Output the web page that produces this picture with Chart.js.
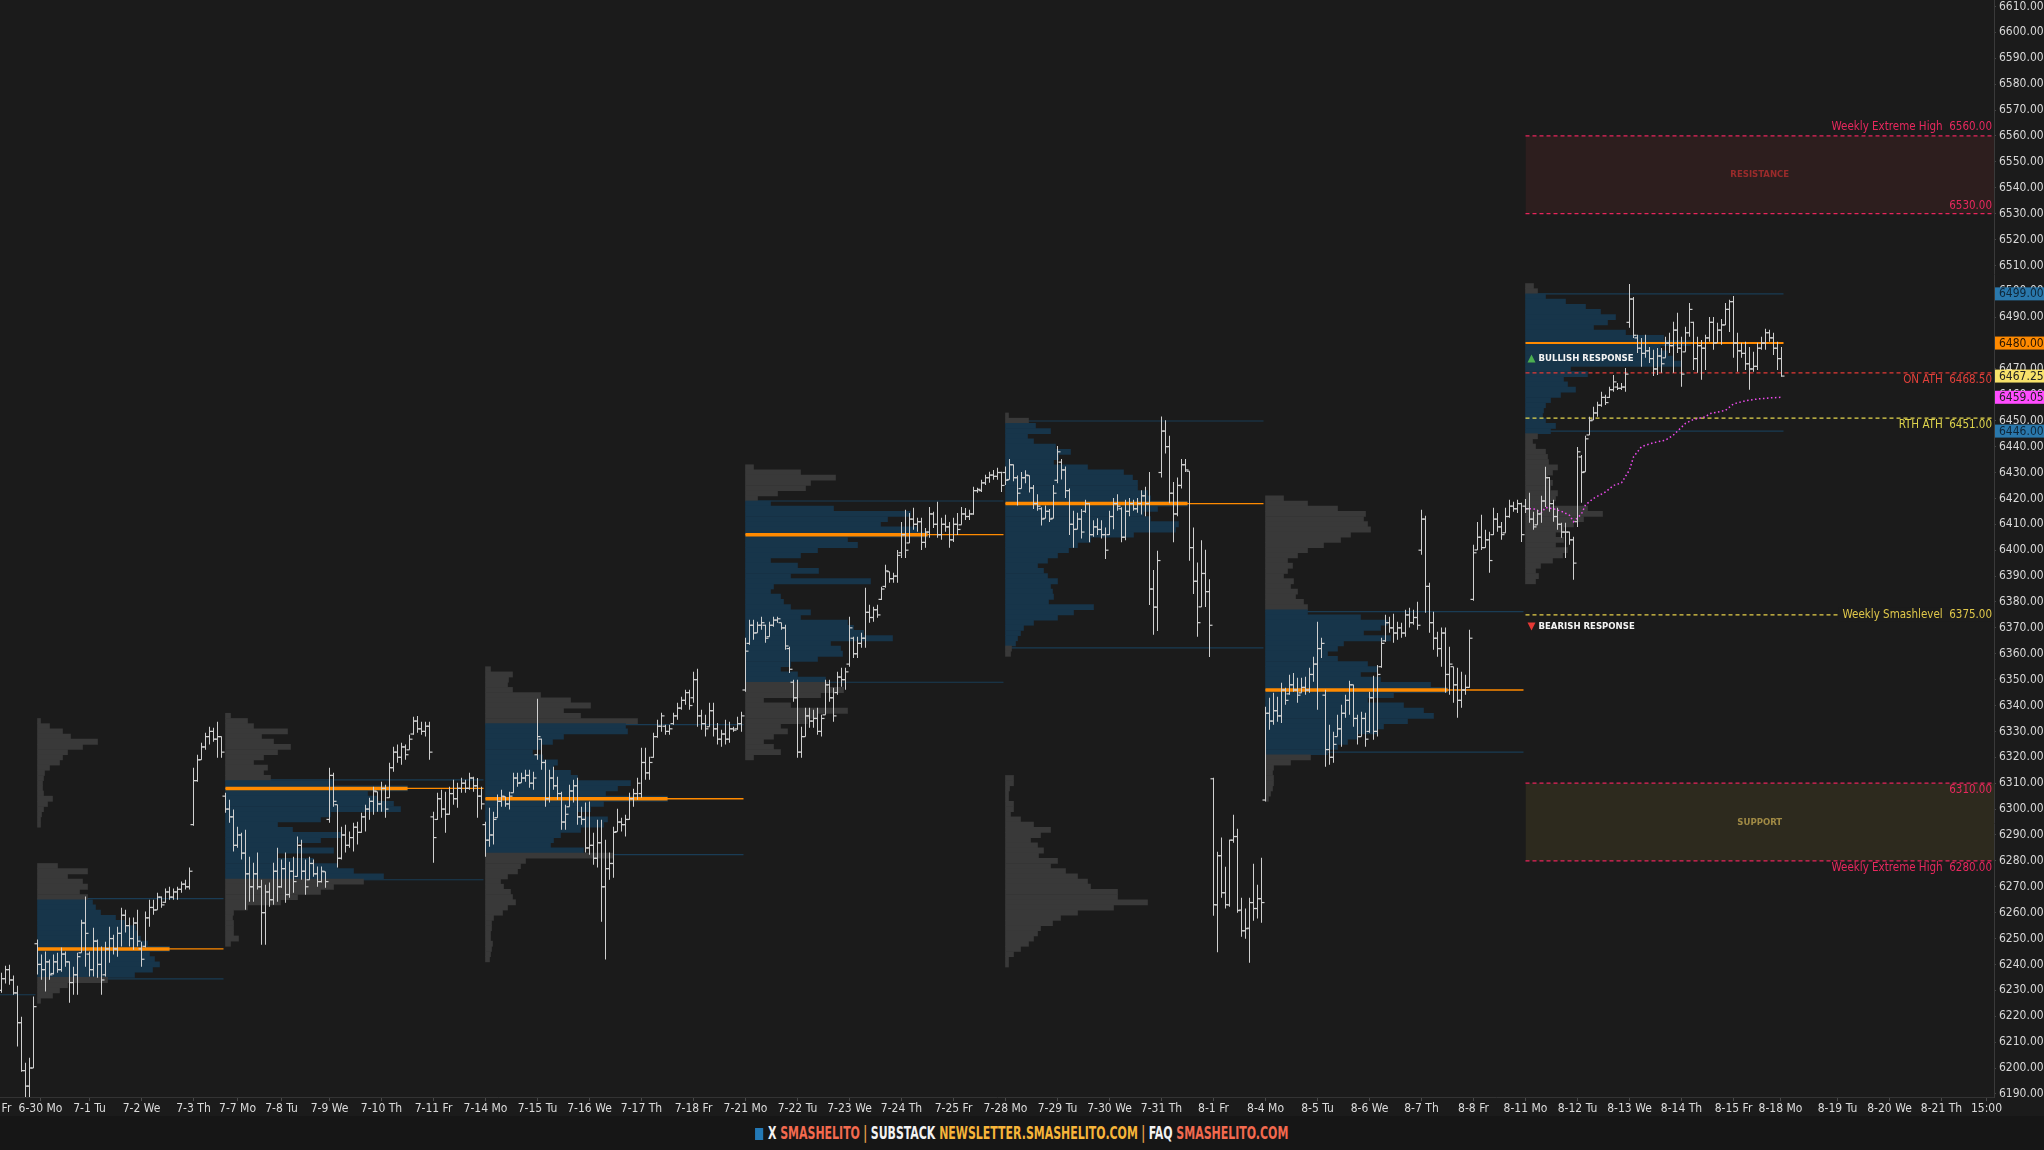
<!DOCTYPE html>
<html>
<head>
<meta charset="utf-8">
<script src="https://cdn.jsdelivr.net/npm/chart.js@4.4.1/dist/chart.umd.min.js"></script>
<style>
html, body { margin: 0; padding: 0; background: #1b1b1b; overflow: hidden; }
#wrap { position: relative; width: 2044px; height: 1150px; }
#chart { display: block; width: 2044px; height: 1116px; }
#footer { position: absolute; left: 0; top: 1116px; width: 2044px; height: 34px; background: #161616; text-align: center; }
#footer .in { display: inline-block; white-space: nowrap; font: bold 18px "Liberation Sans Narrow", "DejaVu Sans Condensed", "Liberation Sans", sans-serif; line-height: 34px; transform-origin: 50% 50%; }
#footer .sq { display: inline-block; width: 12px; height: 12px; background: #2379b6; vertical-align: -1px; margin-right: 7px; }
#footer .w { color: #f2f2f2; }
#footer .r { color: #f36a4f; }
#footer .g { color: #f7b53a; }
#footer .o { color: #e9a24b; margin: 0 5px; }
</style>
</head>
<body>
<div id="wrap">
  <canvas id="chart" width="2044" height="1116"></canvas>
  <div id="footer"><span class="in"><span class="sq"></span><span class="w">X </span><span class="r">SMASHELITO</span><span class="o">|</span><span class="w">SUBSTACK </span><span class="g">NEWSLETTER.SMASHELITO.COM</span><span class="o">|</span><span class="w">FAQ </span><span class="r">SMASHELITO.COM</span></span></div>
</div>
<script>
// 30 min RTH bars, [open, high, low, close]
const barsJun27 = [
    [6230, 6236.8, 6229.1, 6234.5], [6234.5, 6239.5, 6232.6, 6238], [6238, 6239.9, 6232.2, 6234], [6234, 6235.7, 6228.3, 6229],
    [6229, 6231.8, 6208.3, 6217.5], [6217.5, 6219.8, 6198.6, 6199], [6199, 6202, 6186, 6193], [6193, 6204, 6186, 6200],
    [6200, 6227.6, 6200, 6223.7]
];
const barsWk1 = [
    // 6-30
    [6248, 6249.6, 6236.1, 6240], [6240, 6243.8, 6234.1, 6238], [6238, 6245, 6229.5, 6241], [6241, 6241.9, 6234.1, 6236],
    [6236.5, 6243.8, 6236.1, 6241], [6241, 6244.5, 6236.8, 6238], [6238, 6246.5, 6237.2, 6244], [6244, 6245, 6239.1, 6241],
    [6241, 6241.1, 6225.2, 6233], [6233, 6239.1, 6228.3, 6236], [6236, 6244.5, 6228.3, 6243], [6244.5, 6257.3, 6244.5, 6256],
    [6256, 6266.2, 6239.1, 6252],
    // 7-1
    [6244, 6245, 6235.3, 6238], [6238, 6254.2, 6235.3, 6249], [6249, 6249.6, 6234.9, 6240], [6240, 6246.9, 6228.3, 6234],
    [6236, 6248.8, 6235.3, 6246], [6246, 6254.6, 6240.7, 6250], [6250, 6251.5, 6243.8, 6246], [6246, 6254.6, 6243, 6252],
    [6252, 6261.9, 6246.9, 6259], [6259, 6261.1, 6252.3, 6255], [6255, 6258.1, 6246.9, 6250], [6250, 6258.1, 6245.7, 6256],
    [6256, 6261.1, 6246.9, 6249],
    // 7-2
    [6246, 6248.8, 6239.1, 6242], [6247, 6260.4, 6246.5, 6258], [6258, 6265, 6254.6, 6262], [6262, 6265, 6259.2, 6261],
    [6261.1, 6267.7, 6261.1, 6266], [6266, 6266.2, 6261.9, 6263], [6264, 6269.3, 6263.8, 6268], [6268, 6270, 6265, 6266],
    [6266, 6269.3, 6265, 6268], [6268, 6270, 6265, 6269], [6269, 6272, 6267.7, 6271], [6271, 6272.7, 6268.9, 6270],
    [6270, 6277.4, 6268.9, 6276],
    // 7-3 half day
    [6294, 6316, 6293.6, 6311], [6311, 6321, 6310.6, 6319], [6319.1, 6325.6, 6319.1, 6324], [6324, 6329.5, 6322.9, 6328],
    [6328, 6331.8, 6324.9, 6330], [6330, 6331.4, 6326, 6327], [6327, 6333.7, 6319.8, 6328], [6328, 6328, 6319.8, 6322]
];
const barsWk2 = [
    // 7-7
    [6305, 6306.3, 6298.6, 6300], [6300, 6303.6, 6294.7, 6297], [6297, 6299.8, 6283.6, 6286], [6286, 6293.2, 6285.1, 6290],
    [6290, 6290.9, 6280.5, 6283], [6283, 6292, 6261.1, 6275], [6275, 6281.6, 6264.2, 6270], [6270, 6279.3, 6264.2, 6275],
    [6275, 6283.2, 6268.9, 6270], [6270, 6272.7, 6247.6, 6260], [6260, 6270.8, 6247.6, 6268], [6268, 6271.6, 6262.3, 6265],
    [6265, 6279.3, 6263.1, 6276],
    // 7-8
    [6276, 6285.1, 6264.2, 6270], [6270, 6280.5, 6269.6, 6277], [6277, 6283.2, 6263.8, 6267], [6267, 6279.7, 6265.8, 6276],
    [6276, 6281.6, 6267.7, 6272], [6274, 6289.4, 6273.9, 6286], [6286, 6288.2, 6272.7, 6276], [6276, 6280.5, 6266.9, 6270],
    [6272.7, 6281.6, 6272.7, 6279], [6279, 6280.5, 6273.9, 6275], [6275, 6277.8, 6270, 6272], [6272, 6277.8, 6271.6, 6276],
    [6275.8, 6275.8, 6269.6, 6272],
    // 7-9
    [6296, 6316, 6294.7, 6313], [6313, 6314, 6300.9, 6303], [6301.7, 6301.7, 6277.4, 6281], [6281, 6293.2, 6280.5, 6290],
    [6290, 6294, 6283.2, 6286], [6286, 6291.3, 6285.1, 6289], [6289, 6294.7, 6283.6, 6293], [6293, 6295.1, 6286.3, 6291],
    [6291, 6298.6, 6290.9, 6297], [6297, 6301.7, 6291.3, 6300], [6300, 6304.4, 6295.9, 6303], [6303, 6308.6, 6297.8, 6307],
    [6306.7, 6306.7, 6299, 6302],
    // 7-10
    [6302, 6310.6, 6299, 6308], [6308, 6309.4, 6296.7, 6300], [6304.4, 6317.9, 6304.4, 6316], [6316, 6324.1, 6314.4, 6322],
    [6322, 6324.9, 6317.9, 6320], [6320, 6325.6, 6317.1, 6324], [6324, 6324.9, 6319.1, 6321], [6322.9, 6328.7, 6322.9, 6327],
    [6329, 6335.7, 6328.7, 6334], [6334, 6336, 6329.5, 6331], [6331, 6333.7, 6328.7, 6330], [6330, 6333.7, 6328, 6332],
    [6332, 6333.7, 6319.1, 6322],
    // 7-11
    [6297, 6299, 6279.3, 6289], [6296, 6306.3, 6295.9, 6304], [6304, 6307.5, 6296.7, 6300], [6300, 6306.7, 6290.9, 6298],
    [6298, 6308.6, 6297.8, 6306], [6306, 6311.3, 6301.7, 6304], [6304, 6310.2, 6300.5, 6308], [6308, 6312.1, 6306.3, 6310],
    [6310, 6311.3, 6306.3, 6308], [6308, 6314, 6307.5, 6312], [6312, 6312.5, 6306.7, 6309], [6309, 6312, 6296.7, 6305],
    [6305, 6308.6, 6299.8, 6302]
];
const barsWk3 = [
    // 7-14
    [6294, 6295.1, 6281.6, 6288], [6288, 6300.5, 6285.5, 6290], [6290, 6299, 6286.3, 6296], [6296.7, 6305.6, 6296.7, 6303],
    [6303, 6307.5, 6300.9, 6305], [6304.8, 6304.8, 6300.9, 6302], [6302, 6306.7, 6299.8, 6305], [6306.3, 6314, 6306.3, 6312],
    [6312, 6314, 6308.6, 6310], [6310.2, 6314, 6310.2, 6312], [6312, 6315.2, 6310.6, 6313], [6313, 6315.2, 6308.2, 6310],
    [6310, 6314.4, 6307.5, 6312],
    // 7-15
    [6321, 6342.6, 6319.1, 6328], [6327, 6327.2, 6315.2, 6318], [6318, 6319.1, 6300.9, 6304], [6304, 6315.2, 6302.5, 6312],
    [6312, 6316.4, 6307.5, 6309], [6309, 6312.5, 6303.6, 6306], [6306, 6306.7, 6292, 6295], [6295, 6301.7, 6292, 6298],
    [6300.9, 6309.4, 6300.9, 6307], [6307, 6311.3, 6302.5, 6309], [6309, 6312.1, 6294, 6297], [6297, 6300.9, 6294, 6296],
    [6296, 6302.5, 6283.2, 6285],
    // 7-16
    [6285, 6302.9, 6282.4, 6286], [6286, 6290.9, 6278.5, 6281], [6281, 6295.9, 6277.4, 6287], [6287, 6295.9, 6256.5, 6270],
    [6270, 6288.2, 6241.9, 6277], [6277, 6283.2, 6272.7, 6279], [6279, 6293.2, 6273.5, 6291], [6291.3, 6300.1, 6291.3, 6295],
    [6295, 6296.7, 6291.3, 6294], [6294, 6297.8, 6289.4, 6296], [6296, 6306.3, 6295.9, 6304], [6304, 6307.9, 6300.9, 6306],
    [6306, 6312.1, 6303.6, 6310],
    // 7-17
    [6306, 6323.7, 6304.4, 6318], [6318, 6323.7, 6311.3, 6314], [6314, 6320.2, 6311.3, 6318], [6320, 6329.5, 6319.8, 6328],
    [6328, 6334.5, 6327.6, 6332], [6332, 6337.2, 6329.9, 6336], [6332, 6332.6, 6328.7, 6330], [6330, 6332.6, 6328.7, 6331],
    [6333, 6337.2, 6332.6, 6336], [6336, 6341.1, 6334.5, 6339], [6339, 6343.4, 6338.4, 6342], [6342, 6346.1, 6340.3, 6345],
    [6345, 6346.1, 6338.4, 6340],
    // 7-18
    [6343, 6353, 6341.1, 6350], [6350, 6354.2, 6331.8, 6336], [6336, 6338.4, 6330.6, 6333], [6333, 6336.4, 6328, 6331],
    [6331.8, 6341.1, 6331.8, 6338], [6338, 6341.1, 6328, 6331], [6331, 6333.3, 6324.9, 6327], [6327, 6330.6, 6324.1, 6329],
    [6329, 6334.5, 6324.9, 6327], [6327, 6333.7, 6325.6, 6331], [6331, 6331.8, 6329.9, 6330.5], [6331, 6335.7, 6330.6, 6333],
    [6333, 6337.6, 6329.9, 6336]
];
const barsWk4 = [
    // 7-21
    [6346, 6366.2, 6345.3, 6361], [6364, 6373.1, 6363.5, 6371], [6371, 6373.1, 6365.4, 6368], [6368.1, 6372.4, 6368.1, 6371],
    [6371, 6374.3, 6369.3, 6372], [6371, 6371.2, 6364.2, 6366], [6366.6, 6372.4, 6366.6, 6371], [6371, 6374.3, 6370.4, 6373],
    [6373, 6374.3, 6372, 6373.5], [6372, 6372, 6369.3, 6370], [6370, 6371.2, 6361.5, 6363], [6362, 6362.7, 6352.6, 6354],
    [6349, 6350, 6341.5, 6343],
    // 7-22
    [6343, 6350, 6319.8, 6322], [6322, 6331.8, 6319.8, 6328], [6328, 6339.1, 6328, 6336], [6336, 6339.1, 6331.4, 6334],
    [6334, 6338.4, 6331.4, 6335], [6335, 6339.1, 6328.7, 6330], [6330, 6336.4, 6328, 6335], [6336.4, 6350, 6336.4, 6348],
    [6348, 6350, 6341.5, 6343], [6343, 6346.9, 6333.7, 6336], [6345, 6353, 6344.2, 6351], [6351, 6354.6, 6347.3, 6350],
    [6350, 6354.6, 6346.1, 6353],
    // 7-23
    [6356, 6374.3, 6355, 6370], [6366, 6366.6, 6358.4, 6360], [6360, 6366.6, 6358.4, 6364], [6364, 6368.1, 6362.3, 6366],
    [6366, 6385.5, 6362.3, 6376], [6376, 6378.9, 6372, 6374], [6374, 6378.2, 6372.4, 6377], [6377, 6378.9, 6373.9, 6375],
    [6381, 6385.9, 6380.8, 6385], [6386, 6394.4, 6385.5, 6392], [6391.7, 6391.7, 6387.4, 6389], [6389, 6391.3, 6387.4, 6390],
    [6390, 6400.1, 6387.4, 6398],
    // 7-24
    [6399, 6410.9, 6397, 6406], [6406, 6415.6, 6397, 6400], [6402.8, 6414.4, 6402.8, 6412], [6412, 6416.4, 6407.9, 6410],
    [6410, 6412.5, 6407.1, 6411], [6411, 6412.5, 6400.1, 6403], [6403, 6408.6, 6400.9, 6407], [6407, 6416.7, 6404.8, 6414],
    [6414, 6414.8, 6408.6, 6410], [6410, 6418.7, 6404.8, 6406], [6406, 6412.5, 6404, 6410], [6410, 6413.7, 6407.1, 6409],
    [6409, 6410.9, 6400.9, 6404],
    // 7-25
    [6404, 6412.5, 6403.2, 6410], [6410, 6414.4, 6405.9, 6408], [6409.8, 6416.7, 6409.8, 6414], [6414, 6416.3, 6411.7, 6413],
    [6413, 6415.6, 6411.7, 6414], [6414, 6424.5, 6413.7, 6423], [6423, 6424.1, 6422.2, 6423.5], [6423, 6427.2, 6422.5, 6426],
    [6426, 6429.1, 6425.2, 6428], [6428, 6430.3, 6426, 6429], [6429, 6431, 6427.2, 6428.5], [6428.5, 6431.8, 6427.2, 6430],
    [6430, 6430.3, 6422.5, 6425]
];
const barsWk5 = [
    // 7-28
    [6430, 6432.3, 6425.2, 6427], [6427.3, 6435.2, 6427.3, 6433], [6433, 6433.1, 6426.6, 6428], [6428, 6428.8, 6417.3, 6422],
    [6423.8, 6430.2, 6423.8, 6428], [6428, 6430.9, 6425.9, 6429], [6428.8, 6428.8, 6422.3, 6424], [6424, 6425.2, 6415.9, 6418],
    [6418, 6421.6, 6415.2, 6417], [6416, 6416.6, 6409.5, 6412], [6412.3, 6417.3, 6412.3, 6415], [6415, 6415.9, 6410.9, 6412],
    [6412.3, 6425.2, 6412.3, 6422],
    // 7-29
    [6427, 6440.2, 6425.9, 6438], [6434, 6435.2, 6427.3, 6431], [6431, 6432.3, 6420.2, 6423], [6423, 6423.8, 6405.9, 6410],
    [6410, 6415.2, 6400.9, 6408], [6408.1, 6414.5, 6408.1, 6412], [6412, 6415.9, 6404.5, 6407], [6415, 6419.5, 6414.5, 6418],
    [6418, 6418.1, 6403.1, 6406], [6406, 6411.6, 6405.2, 6409], [6409, 6412.3, 6405.9, 6408], [6408, 6411.6, 6404.5, 6406],
    [6406, 6408.8, 6396.6, 6400],
    // 7-30
    [6406, 6415.2, 6405.9, 6413], [6413, 6420.2, 6408.1, 6418], [6418, 6421.6, 6415.2, 6417], [6416, 6416.6, 6403.1, 6405],
    [6405, 6419.5, 6403.8, 6415], [6415, 6420.2, 6413.1, 6418], [6418, 6419.5, 6415.2, 6416], [6416, 6420.2, 6414.5, 6418],
    [6418, 6423.1, 6413.8, 6421], [6421, 6424.5, 6413.1, 6418], [6418, 6430.2, 6378.8, 6385], [6385, 6392.3, 6367.3, 6378],
    [6378, 6399.8, 6368.8, 6396],
    // 7-31
    [6430, 6451.6, 6428.1, 6446], [6446, 6450.2, 6437.3, 6440], [6440, 6444.2, 6418.1, 6422], [6422, 6426.3, 6403.1, 6414],
    [6414, 6428.1, 6413.1, 6425], [6425, 6435.2, 6423.8, 6433], [6433, 6435.2, 6430.2, 6431], [6430.5, 6430.5, 6395.9, 6401],
    [6401, 6408.8, 6383.1, 6388], [6388, 6395.2, 6366.6, 6372], [6378.1, 6403.8, 6378.1, 6391], [6391, 6400.2, 6378.1, 6384],
    [6384, 6388.8, 6358.7, 6371],
    // 8-1
    [6311.7, 6312.1, 6258.8, 6263.1], [6263, 6283.5, 6244.7, 6282], [6282, 6289, 6265.8, 6267.7], [6267.7, 6277.7, 6261.6, 6263.1],
    [6263, 6288.2, 6262.3, 6288], [6288, 6297.8, 6287, 6289.4], [6289.4, 6292.4, 6260, 6260.8], [6261, 6265.8, 6250.7, 6253],
    [6253, 6261.6, 6249.9, 6253.8], [6254, 6265.8, 6240.7, 6263.9], [6263.9, 6278.9, 6256.9, 6261.6], [6261.6, 6270.8, 6257.7, 6265.4],
    [6265.4, 6281.2, 6256.1, 6263.9]
];
const barsWk6 = [
    // 8-4
    [6303.5, 6339.5, 6302.9, 6337], [6337, 6343, 6330.6, 6334], [6334, 6344.9, 6332.6, 6338], [6338, 6343.4, 6333.7, 6336],
    [6336, 6348.8, 6333.3, 6346], [6346, 6346.9, 6340.3, 6342], [6344.5, 6351.9, 6344.2, 6348], [6348, 6352.6, 6345.3, 6346],
    [6346, 6350.7, 6341.1, 6344], [6344.9, 6350.7, 6344.9, 6347], [6347, 6351.1, 6344.2, 6346], [6346, 6354.6, 6344.9, 6352],
    [6352, 6358.8, 6349.2, 6356],
    // 8-5
    [6356, 6372.4, 6338.4, 6362], [6362, 6366.2, 6358.4, 6364], [6344, 6346.1, 6316.4, 6323], [6323, 6332.6, 6317.1, 6320],
    [6320, 6329.9, 6317.9, 6325], [6328, 6336.4, 6328, 6331], [6331, 6340.3, 6324.1, 6337], [6337, 6344.2, 6335.3, 6342],
    [6342, 6349.6, 6336.4, 6348], [6348, 6348, 6331.8, 6335], [6335, 6336.4, 6324.9, 6328], [6328, 6337.6, 6328, 6335],
    [6335, 6337.2, 6324.1, 6327],
    // 8-6
    [6330, 6345.3, 6329.5, 6343], [6343, 6351.5, 6326.8, 6330], [6330, 6355.7, 6328, 6352], [6355, 6366.2, 6354.6, 6364],
    [6365, 6375.1, 6364.6, 6372], [6372, 6374.3, 6368.1, 6370], [6370, 6375.4, 6364.2, 6368], [6368, 6372.4, 6365.4, 6370],
    [6370, 6372, 6366.2, 6368], [6368, 6377, 6366.6, 6375], [6375, 6377.8, 6370.1, 6372], [6372, 6377, 6371.2, 6374],
    [6374, 6380.1, 6369.3, 6371],
    // 8-7
    [6400, 6415.6, 6398.2, 6412], [6412, 6413.3, 6375.8, 6386], [6386, 6387.4, 6368.1, 6372], [6372, 6376.2, 6361.5, 6366],
    [6366, 6368.5, 6358.8, 6362], [6362, 6370.1, 6355, 6368], [6368, 6370.1, 6344.9, 6352], [6352, 6362.7, 6344.2, 6356],
    [6355, 6355, 6341.1, 6348], [6348, 6354.6, 6335.3, 6342], [6342, 6353, 6339.1, 6346], [6346, 6351.9, 6344.2, 6347],
    [6347, 6369.3, 6346.9, 6366],
    // 8-8
    [6381, 6402.1, 6380.5, 6399], [6400.1, 6410.9, 6400.1, 6405], [6405, 6413.7, 6400.1, 6401], [6401, 6407.9, 6400.9, 6404],
    [6404, 6407.1, 6391.3, 6396], [6406, 6416.4, 6405.9, 6412], [6412, 6414.4, 6407.1, 6409], [6409, 6410.9, 6404, 6406],
    [6406.7, 6416.4, 6406.7, 6413], [6413, 6419.5, 6412.5, 6417], [6417, 6418.7, 6414.8, 6416], [6416, 6419.5, 6414.4, 6418],
    [6418, 6418.3, 6403.2, 6406]
];
const barsWk7 = [
    // 8-11
    [6417, 6419.8, 6414.4, 6416], [6416, 6422.2, 6410.6, 6412], [6412, 6414.8, 6407.9, 6409], [6409.8, 6415.6, 6409.8, 6414],
    [6414, 6421, 6410.6, 6419], [6419, 6432.2, 6416.7, 6428], [6428, 6428.3, 6414.8, 6418], [6418, 6419.5, 6411, 6413],
    [6413, 6416.4, 6407.9, 6410], [6410, 6410.6, 6404.8, 6407], [6407, 6410.6, 6397, 6407], [6407, 6407.1, 6402.1, 6404],
    [6404, 6405.2, 6388.6, 6395],
    // 8-12
    [6411, 6439.9, 6409, 6438], [6436, 6436.8, 6418.3, 6430], [6430.3, 6444.2, 6430.3, 6443], [6444.5, 6451.5, 6444.5, 6450],
    [6450.3, 6455.4, 6450.3, 6453], [6453, 6457.3, 6451.5, 6456], [6456, 6461.2, 6455.4, 6459], [6459, 6460, 6456.1, 6457],
    [6459, 6463.1, 6458.8, 6462], [6462, 6467.7, 6461.2, 6465], [6463, 6464.6, 6461.9, 6462.5], [6462.5, 6464.6, 6461.9, 6463],
    [6463, 6470.4, 6461.2, 6468],
    // 8-13
    [6488, 6502.8, 6485.9, 6497], [6497, 6497.8, 6482, 6483], [6482, 6483.2, 6476.2, 6478], [6478, 6482, 6470.8, 6476],
    [6476, 6483.2, 6474.3, 6477], [6477, 6478.5, 6472.3, 6474], [6474, 6477.4, 6467.3, 6470], [6470, 6478.1, 6467.7, 6475],
    [6475, 6478.1, 6468.5, 6472], [6474.3, 6482.4, 6474.3, 6480], [6480, 6484, 6476.2, 6479], [6479, 6488.2, 6468.5, 6485],
    [6485, 6491.7, 6476.2, 6478],
    // 8-14
    [6478, 6482.4, 6463.1, 6468], [6476.6, 6486.3, 6476.6, 6484], [6484, 6495.5, 6482.4, 6493], [6488, 6488.2, 6469.6, 6474],
    [6474, 6482.4, 6468.5, 6479], [6479, 6481.2, 6465.8, 6478], [6478, 6483.2, 6469.6, 6482], [6482, 6490.1, 6480.5, 6488],
    [6488, 6490.1, 6477.4, 6480], [6480.1, 6487.8, 6480.1, 6485], [6485, 6489.3, 6479.3, 6487], [6487, 6495.5, 6487, 6493],
    [6493, 6496.7, 6484.3, 6496],
    // 8-15
    [6496, 6498.2, 6474.3, 6480], [6480, 6484, 6468.9, 6477], [6477, 6480.1, 6474.3, 6476], [6476, 6480.5, 6469.6, 6472],
    [6472, 6478.5, 6462, 6470], [6470, 6476.6, 6468.9, 6471], [6471, 6480.1, 6469.6, 6478], [6478, 6482.4, 6477.4, 6480],
    [6480, 6485.5, 6477.4, 6484], [6484, 6485.1, 6480.5, 6482], [6482, 6484, 6475.4, 6478], [6478, 6480.5, 6469.6, 6474],
    [6474, 6478.5, 6467, 6467.25]
];

// weekly volume profiles, one value per 2 pt row, from profileTop downwards
const profileTop = [6334, 6336, 6354, 6432, 6452, 6420, 6502];
const profileWk1 = [3, 12, 25, 33, 60, 45, 30, 25, 22, 12, 7, 6, 5, 5, 6, 15, 10, 6, 4, 3, 3, 0, 0, 0, 0, 0, 0, 0, 20, 50, 30, 45, 50, 42, 50, 55, 58, 63, 78, 87, 98, 100, 103, 110, 132, 112, 117, 122, 115, 97, 70, 30, 22, 15, 3];
const profileWk2 = [5, 22, 28, 62, 36, 48, 65, 52, 38, 28, 42, 38, 45, 108, 182, 142, 152, 168, 175, 105, 95, 52, 67, 115, 95, 72, 108, 52, 88, 112, 128, 158, 138, 108, 95, 72, 55, 22, 8, 7, 8, 8, 8, 13, 5];
const profileWk3 = [5, 27, 23, 22, 27, 55, 85, 105, 78, 95, 152, 140, 142, 78, 67, 55, 47, 57, 72, 68, 85, 92, 145, 132, 120, 182, 118, 105, 92, 122, 118, 95, 75, 68, 65, 98, 128, 40, 35, 32, 22, 15, 18, 25, 27, 30, 22, 17, 8, 6, 6, 5, 5, 7, 6, 5, 4];
const profileWk4 = [8, 55, 90, 65, 60, 32, 12, 25, 88, 165, 142, 135, 172, 182, 102, 112, 72, 55, 25, 52, 73, 45, 125, 28, 25, 35, 38, 45, 65, 55, 102, 108, 118, 147, 85, 95, 97, 72, 45, 35, 52, 80, 82, 98, 75, 18, 45, 102, 72, 62, 35, 42, 28, 18, 28, 35, 8];
const profileWk5 = [3, 23, 30, 45, 22, 28, 50, 65, 53, 48, 82, 118, 127, 132, 132, 142, 145, 182, 152, 138, 145, 173, 170, 128, 85, 72, 63, 52, 42, 32, 38, 42, 52, 45, 47, 48, 43, 88, 68, 52, 28, 18, 15, 12, 10, 6, 5,
    0, 0, 0, 0, 0, 0, 0, 0, 0, 0, 0, 0, 0, 0, 0, 0, 0, 0, 0, 0, 0, 0, 0,
    8, 8, 4, 3, 3, 8, 8, 5, 15, 28, 45, 35, 25, 32, 38, 33, 52, 45, 60, 72, 82, 85, 112, 112, 142, 108, 72, 55, 47, 35, 32, 28, 23, 15, 8, 3, 3];
const profileWk6 = [18, 42, 72, 100, 98, 102, 105, 85, 75, 58, 42, 32, 22, 27, 22, 18, 28, 25, 32, 30, 38, 42, 42, 95, 122, 115, 98, 125, 78, 72, 62, 72, 102, 112, 95, 115, 165, 182, 128, 102, 138, 158, 168, 142, 118, 112, 92, 82, 72, 62, 45, 25, 8, 7, 8, 8, 7, 5, 3];
const profileWk7 = [8, 12, 20, 40, 60, 75, 90, 82, 68, 100, 138, 165, 135, 142, 147, 155, 45, 62, 38, 42, 50, 35, 25, 20, 18, 17, 20, 30, 25, 12, 7, 10, 20, 22, 23, 32, 27, 22, 27, 25, 32, 30, 25, 62, 77, 58, 48, 38, 30, 38, 30, 42, 37, 27, 15, 10, 13, 10];
const valueAreaHigh = [6265.4, 6311.3, 6332.6, 6419, 6449.9, 6376.3, 6499];
const valueAreaLow = [6234.4, 6272.7, 6282.4, 6349, 6362.3, 6322, 6446];
const pocPrice = [6246, 6308, 6304, 6406, 6418, 6346, 6480];
const priorWeekValueAreaLow = 6228.3;

// weekly VWAP of the current week
const vwapBar = [381, 383, 385, 386, 388, 390, 392, 393, 395, 396, 398, 401, 403, 405, 407, 408, 410, 413, 416, 418, 421, 423, 426, 427, 431, 433, 436, 439, 442, 445];
const vwapValue = [6416, 6416, 6414.5, 6416.5, 6416, 6415, 6413.5, 6411, 6414, 6417.5, 6420, 6422.5, 6425, 6426, 6431, 6436, 6440, 6441.5, 6442.5, 6444.5, 6449, 6450.5, 6451.5, 6452.7, 6454, 6456.5, 6457.7, 6458.4, 6458.8, 6459.05];

// levels for the coming week
const levelPrice = [6560, 6530, 6468.5, 6451, 6375, 6310, 6280];
const levelName = ['Weekly Extreme High', '', 'ON ATH', 'RTH ATH', 'Weekly Smashlevel', '', 'Weekly Extreme High'];
const zoneName = ['RESISTANCE', 'SUPPORT'];
const zoneHigh = [6560, 6310];
const zoneLow = [6530, 6280];
const responseName = ['BULLISH RESPONSE', 'BEARISH RESPONSE'];
const responsePrice = [6474, 6370.5];

// session labels along the time axis (bar slot of each label)
const dayTickPos = [-2.25, 9.75, 22, 35, 48, 59, 70, 82, 95, 108, 121, 134, 147, 160, 173, 186, 199, 212, 225, 238, 251, 264, 277, 290, 303, 316, 329, 342, 355, 368, 381, 394, 407, 420, 433, 444.75, 459, 472, 485, 496.25];
const dayTickLabels = ['6-27 Fr', '6-30 Mo', '7-1 Tu', '7-2 We', '7-3 Th', '7-7 Mo', '7-8 Tu', '7-9 We', '7-10 Th', '7-11 Fr', '7-14 Mo', '7-15 Tu', '7-16 We', '7-17 Th', '7-18 Fr', '7-21 Mo', '7-22 Tu', '7-23 We', '7-24 Th', '7-25 Fr', '7-28 Mo', '7-29 Tu', '7-30 We', '7-31 Th', '8-1 Fr', '8-4 Mo', '8-5 Tu', '8-6 We', '8-7 Th', '8-8 Fr', '8-11 Mo', '8-12 Tu', '8-13 We', '8-14 Th', '8-15 Fr', '8-18 Mo', '8-19 Tu', '8-20 We', '8-21 Th', '15:00'];
const priceTickFirst = 6190, priceTickLast = 6610, priceTickStep = 10;

//----------------
const FONT = '"Liberation Sans Narrow", "DejaVu Sans Condensed", "Liberation Sans", sans-serif';
const BG = '#1b1b1b';
const BAR_COLOR = '#d0d0d0';
const VA_LINE = '#1a3c55';
const X_MIN = -0.375, X_MAX = 498.125;   // bar slot centres land on half pixels -> crisp 1px bars
const Y_MIN = 6188.8, Y_MAX = 6612.5;
const PLOT_H = 1097;
const ROW = 2;
const ROW_PX = ROW * PLOT_H / (Y_MAX - Y_MIN);
const VOL_SCALE = 0.25;

const weekBars = [barsWk1, barsWk2, barsWk3, barsWk4, barsWk5, barsWk6, barsWk7];
const profiles = [profileWk1, profileWk2, profileWk3, profileWk4, profileWk5, profileWk6, profileWk7];
const allBars = [barsJun27, ...weekBars].flat();

const weekStart = [];
let count = barsJun27.length;
weekBars.forEach(w => {
    weekStart.push(count);
    count += w.length;
});
const weekEnd = weekStart.map((s, k) => s + weekBars[k].length - 0.5);
const lastWeek = weekStart.length - 1;

const priceTicks = [];
for (let v = priceTickFirst; v <= priceTickLast; v += priceTickStep) {
    priceTicks.push({ value: v });
}

function hline(x0, x1, price, color, width, order, dash) {
    return {
        type: 'line',
        data: [{ x: x0, y: price }, { x: x1, y: price }],
        borderColor: color,
        borderWidth: width,
        borderDash: dash || [],
        pointRadius: 0,
        order: order
    };
}

const datasets = [];

// support / resistance boxes
const zoneFill = ['#2d1e1e', '#2d2a1e'];
zoneName.forEach((z, k) => {
    datasets.push({ type: 'line', data: [{ x: weekStart[lastWeek], y: zoneHigh[k] }, { x: X_MAX, y: zoneHigh[k] }], borderWidth: 0, borderColor: 'rgba(0,0,0,0)', pointRadius: 0, fill: false, order: 20 });
    datasets.push({ type: 'line', data: [{ x: weekStart[lastWeek], y: zoneLow[k] }, { x: X_MAX, y: zoneLow[k] }], borderWidth: 0, borderColor: 'rgba(0,0,0,0)', pointRadius: 0, fill: '-1', backgroundColor: zoneFill[k], order: 20 });
});

// value area low of the week before the chart starts
datasets.push(hline(X_MIN, weekStart[0] - 0.5, priorWeekValueAreaLow, VA_LINE, 1.2, 15));

// volume profiles with value area and POC
profiles.forEach((vols, k) => {
    const s = weekStart[k];
    const e = weekEnd[k];
    datasets.push(hline(s, e, valueAreaHigh[k], VA_LINE, 1.2, 15));
    datasets.push(hline(s, e, valueAreaLow[k], VA_LINE, 1.2, 15));
    datasets.push({
        type: 'bar',
        indexAxis: 'y',
        grouped: false,
        barThickness: ROW_PX,
        borderWidth: 0,
        order: 12,
        data: vols.map((v, j) => ({ y: profileTop[k] - j * ROW, x: [s, s + v * VOL_SCALE] })).filter(d => d.x[1] > s),
        backgroundColor: c => {
            if (!c.raw) return '#393939';
            return (c.raw.y <= valueAreaHigh[k] && c.raw.y >= valueAreaLow[k]) ? '#17354a' : '#393939';
        }
    });
    const pocVol = vols[Math.round((profileTop[k] - pocPrice[k]) / ROW)];
    if (k === lastWeek) {
        datasets.push(hline(s, e, pocPrice[k], '#ff8a00', 2, 8));
    } else {
        datasets.push(hline(s, e, pocPrice[k], '#ff8a00', 1.3, 8));
        datasets.push(hline(s, s + pocVol * VOL_SCALE, pocPrice[k], '#ff8a00', 3.5, 8));
    }
});

// levels
const levelColor = ['#e8245c', '#e8245c', '#e23a36', '#e6d84e', '#e6cf4a', '#e8245c', '#e8245c'];
levelPrice.forEach((p, k) => {
    datasets.push(hline(weekStart[lastWeek], X_MAX, p, levelColor[k], 1.2, 6, [4, 3]));
});

// vwap
datasets.push({
    type: 'line',
    data: vwapBar.map((b, i) => ({ x: b, y: vwapValue[i] })),
    borderColor: '#f04cf0',
    borderWidth: 1.5,
    borderDash: [1.5, 2.5],
    pointRadius: 0,
    order: 5
});

// ohlc bars: high-low range + open/close ticks
datasets.push({
    type: 'bar',
    grouped: false,
    barThickness: 1,
    borderWidth: 0,
    inflateAmount: 0,
    backgroundColor: BAR_COLOR,
    order: 3,
    data: allBars.map((b, i) => ({ x: i, y: [b[2], b[1]] }))
});
function tickSet(points) {
    return {
        type: 'line',
        showLine: false,
        pointStyle: 'line',
        pointRadius: 1.5,
        pointBorderWidth: 1.2,
        pointBorderColor: BAR_COLOR,
        pointBackgroundColor: BAR_COLOR,
        pointHoverRadius: 0,
        order: 2,
        data: points
    };
}
datasets.push(tickSet(allBars.map((b, i) => ({ x: i - 0.375, y: b[0] }))));
datasets.push(tickSet(allBars.map((b, i) => ({ x: i + 0.375, y: b[3] }))));

// text drawn over the plot
const levelDy = [-9, -8, 7, 7, 0, 7, 7];
const levelText = ['#e8285e', '#e8285e', '#e2403a', '#ddd34c', '#e0c84a', '#e8285e', '#e8285e'];
const zoneText = ['#9a2b2b', '#a08a45'];
const overlay = {
    id: 'overlay',
    afterDatasetsDraw(chart) {
        const { ctx, chartArea: a, scales: { x, y } } = chart;
        const xs = x.getPixelForValue(weekStart[lastWeek]);
        ctx.save();
        ctx.textBaseline = 'middle';

        zoneName.forEach((t, k) => {
            ctx.font = 'bold 9.5px ' + FONT;
            ctx.fillStyle = zoneText[k];
            ctx.textAlign = 'center';
            ctx.fillText(t, (xs + a.right) / 2, y.getPixelForValue((zoneHigh[k] + zoneLow[k]) / 2));
        });

        levelPrice.forEach((p, k) => {
            const txt = (levelName[k] ? levelName[k] + '  ' : '') + p.toFixed(2);
            const yy = y.getPixelForValue(p) + levelDy[k];
            ctx.font = '11.5px ' + FONT;
            if (levelDy[k] === 0) {
                const w = ctx.measureText(txt).width;
                ctx.fillStyle = BG;
                ctx.fillRect(a.right - 2 - w - 4, yy - 7, w + 6, 14);
            }
            ctx.fillStyle = levelText[k];
            ctx.textAlign = 'right';
            ctx.fillText(txt, a.right - 2, yy);
        });

        responseName.forEach((t, k) => {
            const yy = y.getPixelForValue(responsePrice[k]);
            const x0 = xs + 2;
            ctx.beginPath();
            if (k === 0) {
                ctx.moveTo(x0, yy + 4);
                ctx.lineTo(x0 + 8, yy + 4);
                ctx.lineTo(x0 + 4, yy - 4);
                ctx.fillStyle = '#4caf50';
            } else {
                ctx.moveTo(x0, yy - 4);
                ctx.lineTo(x0 + 8, yy - 4);
                ctx.lineTo(x0 + 4, yy + 4);
                ctx.fillStyle = '#e53935';
            }
            ctx.closePath();
            ctx.fill();
            ctx.font = 'bold 9.5px ' + FONT;
            ctx.fillStyle = '#f4f4f4';
            ctx.textAlign = 'left';
            ctx.fillText(t, x0 + 11, yy);
        });
        ctx.restore();
    },
    afterDraw(chart) {
        // coloured price tags on the axis
        const { ctx, chartArea: a, scales: { y } } = chart;
        const lastClose = allBars[allBars.length - 1][3];
        const tags = [
            [valueAreaHigh[lastWeek], '#2a78ac', '#0f2638'],
            [pocPrice[lastWeek], '#ff8a00', '#2a1600'],
            [lastClose, '#f7e26a', '#222'],
            [vwapValue[vwapValue.length - 1], '#ff4cff', '#222'],
            [valueAreaLow[lastWeek], '#2a78ac', '#0f2638']
        ];
        ctx.save();
        ctx.font = '12px ' + FONT;
        ctx.textBaseline = 'middle';
        ctx.textAlign = 'left';
        tags.forEach(([v, bg, fg]) => {
            const yy = y.getPixelForValue(v);
            ctx.fillStyle = bg;
            ctx.fillRect(a.right + 1, yy - 6.5, chart.width - a.right - 1, 13);
            ctx.fillStyle = fg;
            ctx.fillText(v.toFixed(2), a.right + 5, yy + 0.5);
        });
        ctx.restore();
    }
};

const chartCanvas = document.getElementById('chart').getContext('2d');
const priceChart = new Chart(chartCanvas, {
    type: 'bar',
    data: { datasets: datasets },
    options: {
        responsive: false,
        animation: false,
        devicePixelRatio: 1,
        layout: { padding: 0, autoPadding: false },
        events: [],
        plugins: {
            legend: { display: false },
            tooltip: { enabled: false }
        },
        scales: {
            x: {
                type: 'linear',
                min: X_MIN,
                max: X_MAX,
                offset: false,
                bounds: 'data',
                afterBuildTicks: s => {
                    s.ticks = dayTickPos.map(v => ({ value: v }));
                },
                afterFit: s => {
                    s.height = 19;
                    s.paddingLeft = 0;
                    s.paddingRight = 0;
                },
                ticks: {
                    autoSkip: false,
                    maxRotation: 0,
                    minRotation: 0,
                    padding: 1,
                    color: '#dcdcdc',
                    font: { family: FONT, size: 12 },
                    callback: (v, i) => dayTickLabels[i]
                },
                grid: { drawOnChartArea: false, drawTicks: true, tickLength: 4, color: '#4a4a4a', offset: false },
                border: { display: true, color: '#333333' }
            },
            y: {
                type: 'linear',
                position: 'right',
                min: Y_MIN,
                max: Y_MAX,
                offset: false,
                bounds: 'data',
                beginAtZero: false,
                afterBuildTicks: s => {
                    s.ticks = priceTicks.map(t => ({ value: t.value }));
                },
                afterFit: s => {
                    s.width = 50;
                    s.paddingTop = 0;
                    s.paddingBottom = 0;
                },
                ticks: {
                    autoSkip: false,
                    padding: 3,
                    color: '#d8d8d8',
                    font: { family: FONT, size: 12 },
                    callback: v => v.toFixed(2)
                },
                grid: { drawOnChartArea: false, tickLength: 2, color: '#444444', offset: false },
                border: { display: true, color: '#3a3a3a' }
            }
        }
    },
    plugins: [overlay]
});

// squeeze the footer text to the width of the original banner
const footerText = document.querySelector('#footer .in');
footerText.style.transform = 'scaleX(' + (533 / footerText.offsetWidth) + ')';
</script>
</body>
</html>
